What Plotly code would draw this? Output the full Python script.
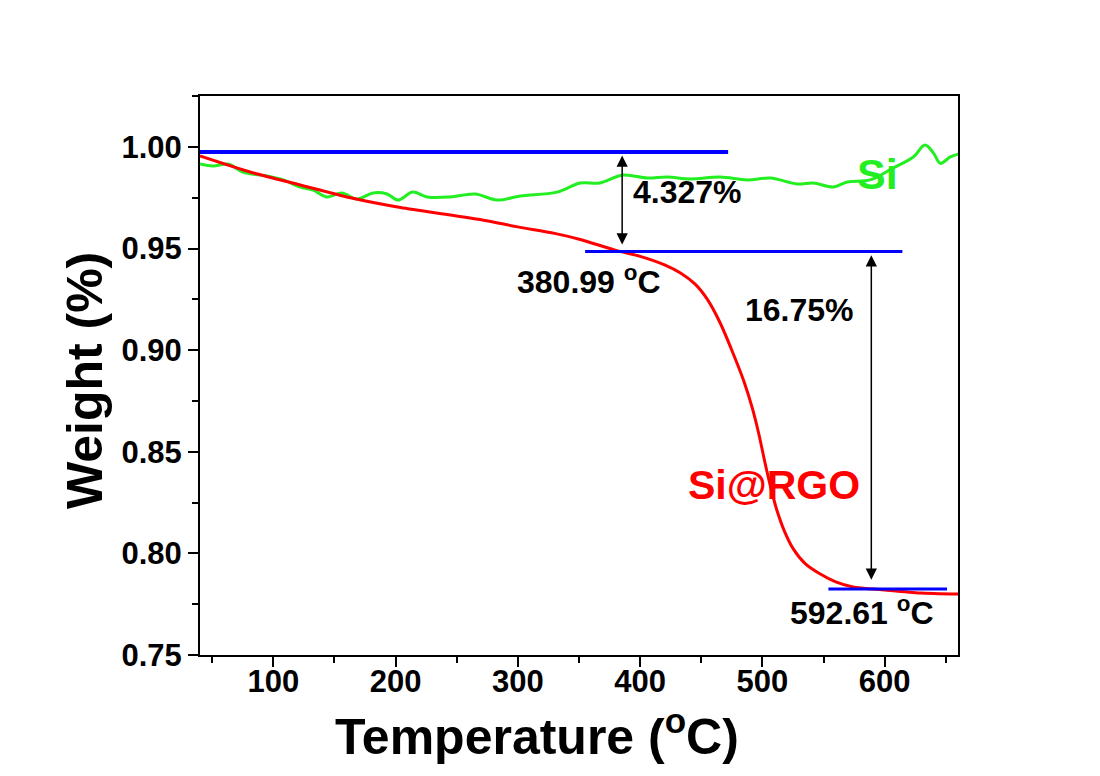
import plotly.graph_objects as go

# Si@RGO (red) TGA curve
rgo_T = [40, 81, 122, 163, 204, 245, 272, 300, 330, 351, 381, 400, 420, 433, 445, 455, 465, 475, 485, 492, 497, 502, 507, 512, 518, 525, 535, 547, 560, 574, 600, 629, 660]
rgo_W = [0.9956, 0.9877, 0.9813, 0.9750, 0.9702, 0.9665, 0.9640, 0.9607, 0.9575, 0.9545, 0.9490, 0.9462, 0.9420, 0.9380, 0.9325, 0.9250, 0.9140, 0.9000, 0.8845, 0.8710, 0.8590, 0.8450, 0.8320, 0.8210, 0.8110, 0.8025, 0.7950, 0.7900, 0.7860, 0.7835, 0.7820, 0.7805, 0.7800]

# Si (green) TGA curve
si_T = [40, 50.6, 63, 75, 95, 108, 122, 132.5, 144, 156, 168.5, 181.6, 193, 202, 214, 225.8, 244.6, 265, 283, 302, 332, 351, 367, 386, 405.8, 422, 441, 465.5, 487.6, 506.5, 528.5, 541.6, 558, 569.5, 588, 607, 623.5, 633, 640, 645.6, 653.7, 661]
si_W = [0.9916, 0.9906, 0.9916, 0.9877, 0.9857, 0.9838, 0.9803, 0.9788, 0.9754, 0.9774, 0.9744, 0.9774, 0.9769, 0.9739, 0.9778, 0.9754, 0.9754, 0.9769, 0.9739, 0.9759, 0.9778, 0.9823, 0.9823, 0.9862, 0.9847, 0.9852, 0.9843, 0.9852, 0.9838, 0.9847, 0.9818, 0.9823, 0.9803, 0.9828, 0.9838, 0.9897, 0.9951, 1.0010, 0.9970, 0.9920, 0.9951, 0.9966]

# Blue reference lines: (x start, x end, y level)
ref_lines = [(40, 472, 0.9975), (355, 614.5, 0.9486), (554, 651, 0.7825)]
ref_widths = [4, 3, 3]

# Double arrows: (x, y top, y bottom)
arrows = [(385.3, 0.9965, 0.9520), (589.1, 0.9475, 0.7870)]

# Text labels: (text, x, y, size, color)
labels = [
    ("4.327%", 438.5, 0.9779, 32, "black"),
    ("380.99 <sup>o</sup>C", 358, 0.9346, 32, "black"),
    ("16.75%", 530, 0.9198, 32, "black"),
    ("Si@RGO", 509.7, 0.8337, 41, "red"),
    ("Si", 594, 0.9867, 43, "#22ee22"),
    ("592.61 <sup>o</sup>C", 581.8, 0.7717, 32, "black"),
]

x_title = "Temperature (<sup>o</sup>C)"
y_title = "Weight (%)"

FONT = "Liberation Sans"

fig = go.Figure()
fig.add_trace(go.Scatter(x=si_T, y=si_W, mode="lines", line=dict(color="#22ee22", width=3), line_shape="spline", showlegend=False))
fig.add_trace(go.Scatter(x=rgo_T, y=rgo_W, mode="lines", line=dict(color="red", width=3, smoothing=0.7), line_shape="spline", showlegend=False))
for (x0, x1, yv), w in zip(ref_lines, ref_widths):
    fig.add_trace(go.Scatter(x=[x0, x1], y=[yv, yv], mode="lines", line=dict(color="blue", width=w), showlegend=False))

for (xa, yt, yb) in arrows:
    fig.add_annotation(x=xa, y=yb, ax=xa, ay=yt, xref="x", yref="y", axref="x", ayref="y",
                       text="", showarrow=True, arrowhead=2, arrowside="end+start",
                       arrowsize=1.5, arrowwidth=1.5, arrowcolor="black", standoff=0, startstandoff=0)

for (t, x, y, s, c) in labels:
    fig.add_annotation(x=x, y=y, xref="x", yref="y", text=t, showarrow=False,
                       font=dict(family=FONT, size=s, color=c, weight="bold"))

# axis titles as positioned annotations
fig.add_annotation(x=0.4446, y=-0.1395, xref="paper", yref="paper", text=x_title, showarrow=False,
                   xanchor="center", yanchor="middle",
                   font=dict(family=FONT, size=50, color="black", weight="bold"))
fig.add_annotation(x=-0.1517, y=0.490, xref="paper", yref="paper", text=y_title, showarrow=False,
                   textangle=-90, xanchor="center", yanchor="middle",
                   font=dict(family=FONT, size=50, color="black", weight="bold"))

axis_common = dict(showline=True, linecolor="black", linewidth=2, mirror=True,
                   ticks="outside", ticklen=10, tickwidth=2, tickcolor="black",
                   showgrid=False, zeroline=False,
                   tickfont=dict(family=FONT, size=31, color="black", weight="bold"))

fig.update_xaxes(range=[40, 660], dtick=100, tick0=0, ticklabelstandoff=-12,
                 minor=dict(dtick=50, tick0=0, ticks="outside", ticklen=6, tickwidth=2, tickcolor="black"),
                 **axis_common)
fig.update_yaxes(range=[0.75, 1.0251], dtick=0.05, tick0=0.75, tickformat=".2f",
                 minor=dict(dtick=0.025, tick0=0.75, ticks="outside", ticklen=6, tickwidth=2, tickcolor="black"),
                 **axis_common)

fig.update_layout(width=1100, height=776, paper_bgcolor="white", plot_bgcolor="white",
                  margin=dict(l=200, r=142, t=96, b=121, pad=0))

fig.write_html("out.html")
